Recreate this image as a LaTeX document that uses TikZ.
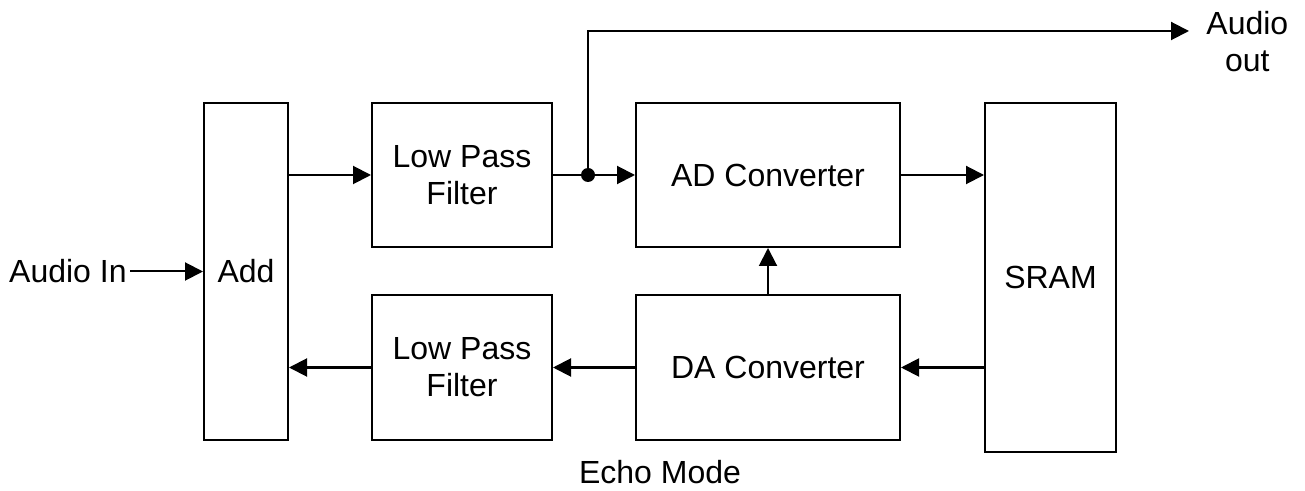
\documentclass[tikz,border=0pt]{standalone}
\usepackage{fontspec}
\setmainfont{Liberation Sans}
\usetikzlibrary{arrows.meta}
\begin{document}
\begin{tikzpicture}[
  x=0.5pt, y=-0.5pt,
  block/.style={rectangle, draw, line width=1pt, minimum width=90pt, minimum height=72pt, align=center},
  conv/.style={block, minimum width=132pt},
  tall/.style={block, minimum width=42pt, minimum height=168.5pt},
  conn/.style={-{Triangle[length=9pt,width=9pt]}, line width=1pt},
  font=\fontsize{16}{18.5}\selectfont
]
\useasboundingbox (0,0) rectangle (1305,491);
\node[tall] (add) at (246,271.5) {Add};
\node[block] (lpfin) at (462,175) {Low Pass\\Filter};
\node[conv, right of=lpfin, node distance=153pt] (adc) {AD Converter};
\node[block, below of=lpfin, node distance=96.25pt] (lpfout) {Low Pass\\Filter};
\node[conv, right of=lpfout, node distance=153pt] (dac) {DA Converter};
\node[tall, minimum width=65.5pt, minimum height=174.5pt] (sram) at (1050.5,277.5) {SRAM};
\node[anchor=east, inner sep=1.5pt] (ain) at (130,271.5) {Audio In};
\coordinate (tap) at (588,175);
\coordinate (outtip) at (1189,31);
\node[anchor=west, align=center, inner sep=2pt] (aout) at (1202,42) {Audio\\out};
\node (echo) at (660,472.5) {Echo Mode};

% Arrows
\draw[conn] (ain) -- (add);
\draw[conn] (add.east |- lpfin.west) -- (lpfin.west);
\draw[conn] (lpfin) -- (adc);
\draw[conn] (tap) |- (outtip);
\fill (tap) circle (3.5pt);
\draw[conn] (adc.east) -- (sram.west |- adc.east);
\draw[conn] (sram.west |- dac.east) -- (dac.east);
\draw[conn] (dac) -- (adc);
\draw[conn] (dac) -- (lpfout);
\draw[conn] (lpfout.west) -- (add.east |- lpfout.west);
\end{tikzpicture}
\end{document}
